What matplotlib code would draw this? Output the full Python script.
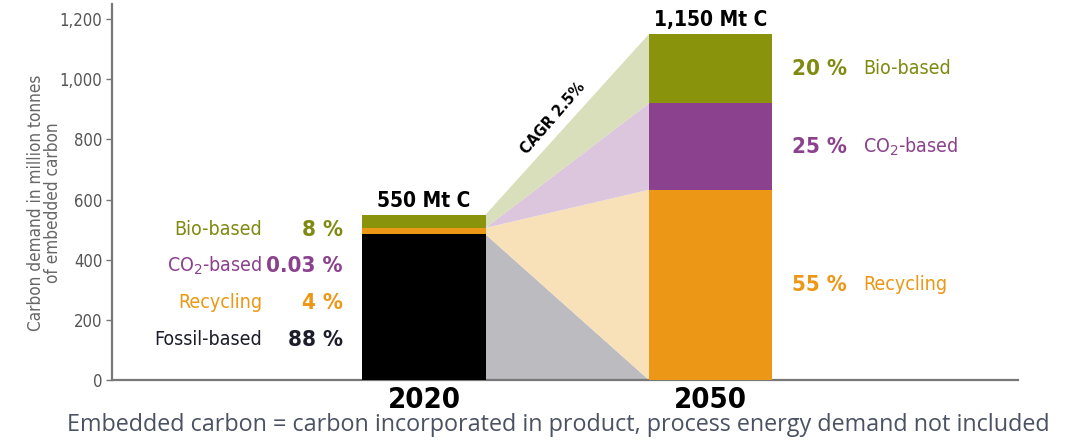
import matplotlib
matplotlib.use("Agg")
import matplotlib.pyplot as plt
import numpy as np

# carbon demand (Mt C) and source shares
years = ["2020", "2050"]
totals = [550, 1150]
sources = ["Fossil-based", "Recycling", "CO$_2$-based", "Bio-based"]
shares_2020 = [88, 4, 0.03, 8]
shares_2050 = [0, 55, 25, 20]
cagr_label = "CAGR 2.5%"
note = "Embedded carbon = carbon incorporated in product, process energy demand not included"

dark = ["#000000", "#ec9715", "#8c418e", "#89930c"]
light = ["#bcbbc0", "#f8e0b8", "#dcc6de", "#d8dfba"]
text_cols = ["#1d1d2b", "#ec9715", "#8c418e", "#7f8a10"]

COND = dict(family="DejaVu Sans", stretch="condensed")

vals20 = np.array(shares_2020) / 100 * totals[0]
vals50 = np.array(shares_2050) / 100 * totals[1]
# rescale so that each stack adds up to the stated total
vals20 = vals20 / vals20.sum() * totals[0]
vals50 = vals50 / vals50.sum() * totals[1]
bot20 = np.concatenate([[0], np.cumsum(vals20)[:-1]])
bot50 = np.concatenate([[0], np.cumsum(vals50)[:-1]])

fig = plt.figure(figsize=(10.76, 4.41), dpi=100)
ax = fig.add_axes([112 / 1076, 1 - 380 / 441, 906 / 1076, 376 / 441])

x = np.array([0.0, 1.0])
w = 0.43

for i in range(4):
    ax.bar(x[0], vals20[i], w, bottom=bot20[i], color=dark[i], zorder=3)
    if vals50[i] > 0:
        ax.bar(x[1], vals50[i], w, bottom=bot50[i], color=dark[i], zorder=3)
    # flow band between the two stacks
    xs = [x[0] + w / 2, x[1] - w / 2, x[1] - w / 2, x[0] + w / 2]
    ys = [bot20[i], bot50[i], bot50[i] + vals50[i], bot20[i] + vals20[i]]
    ax.fill(xs, ys, color=light[i], lw=0, zorder=2)

ax.set_xlim(-1.089, 2.073)
ax.set_ylim(0, 1250)
ax.set_yticks(range(0, 1201, 200))
ax.set_yticklabels([f"{v:,}" for v in range(0, 1201, 200)], **COND,
                   fontsize=12, color="#555555")
ax.set_xticks(x)
ax.set_xticklabels(years, **COND, fontsize=21, fontweight="bold")
ax.tick_params(axis="x", length=0, pad=4)
ax.tick_params(axis="y", length=4, width=1, color="#777777", pad=3)
for s in ["top", "right"]:
    ax.spines[s].set_visible(False)
for s in ["left", "bottom"]:
    ax.spines[s].set_color("#777777")
    ax.spines[s].set_linewidth(1.6)

ax.set_ylabel("Carbon demand in million tonnes\nof embedded carbon", **COND,
              fontsize=12.3, color="#666666", linespacing=0.95)
ax.yaxis.set_label_coords(-0.055, 0.471)

# totals above the bars
for xi, t in zip(x, totals):
    ax.text(xi, t + 12, f"{t:,} Mt C", ha="center", va="bottom", **COND,
            fontsize=15, fontweight="bold")

# 2020 legend on the left
label_y = [133, 256, 379, 499]
for i in range(4):
    pct = f"{shares_2020[i]:g} %"
    ax.text(-0.283, label_y[i], pct, ha="right", va="center", **COND,
            fontsize=16, fontweight="bold", color=text_cols[i])
    ax.text(-0.565, label_y[i], sources[i], ha="right", va="center", **COND,
            fontsize=14, color=text_cols[i])

# 2050 labels at segment centres
for i in range(1, 4):
    yc = bot50[i] + vals50[i] / 2
    ax.text(1.284, yc, f"{shares_2050[i]:g} %", ha="left", va="center", **COND,
            fontsize=16, fontweight="bold", color=text_cols[i])
    ax.text(1.532, yc, sources[i], ha="left", va="center", **COND,
            fontsize=14, color=text_cols[i])

ax.text(0.45, 870, cagr_label, rotation=49, ha="center", va="center", **COND,
        fontsize=11.5, fontweight="bold", rotation_mode="anchor")

fig.text(558 / 1076, 1 - 425 / 441, note, ha="center", va="center", family="Open Sans",
         fontsize=16.8, color="#4a5263")

fig.savefig("out.png", dpi=100)
